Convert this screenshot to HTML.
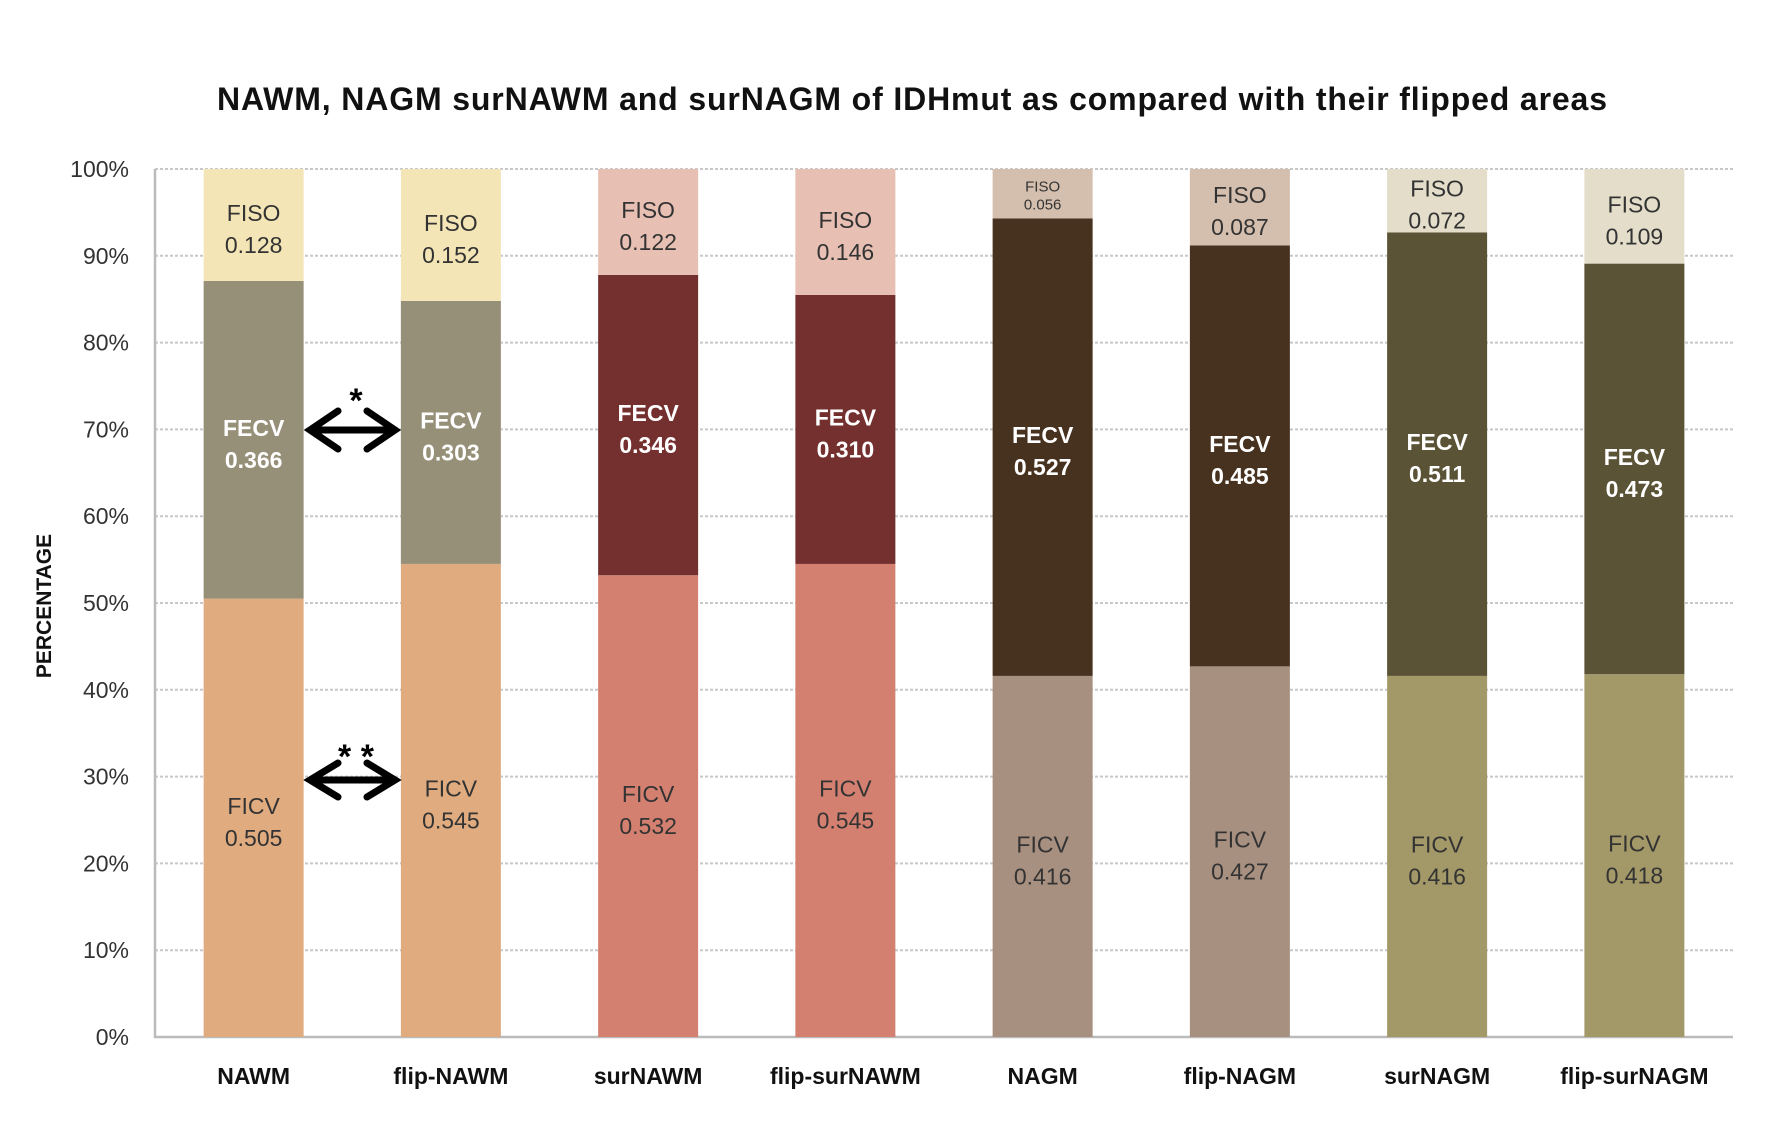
<!DOCTYPE html>
<html><head><meta charset="utf-8"><style>
body{margin:0;background:#fff}
svg text{font-family:"Liberation Sans","DejaVu Sans",sans-serif}
</style></head><body>
<svg id="chart" width="1770" height="1128" viewBox="0 0 1770 1128" xmlns="http://www.w3.org/2000/svg">
<text x="912" y="110" text-anchor="middle" font-size="32" font-weight="bold" fill="#111" textLength="1390" lengthAdjust="spacing">NAWM, NAGM surNAWM and surNAGM of IDHmut as compared with their flipped areas</text>
<text transform="translate(51,606) rotate(-90)" text-anchor="middle" font-size="21" font-weight="bold" fill="#111">PERCENTAGE</text>
<g id="grid"></g><g id="bars"></g><g id="labels"></g>
<g stroke="#000" stroke-width="7" fill="none" stroke-linecap="round">
<path d="M310 430 H395 M338 411 L310 430 L338 449 M367 411 L395 430 L367 449"/>
<path d="M310 780 H395 M338 763 L310 780 L338 797 M367 763 L395 780 L367 797"/>
</g>
<text x="356" y="412" text-anchor="middle" font-size="34" font-weight="bold">*</text>
<text x="356" y="768" text-anchor="middle" font-size="34" font-weight="bold">* *</text>
</svg>
<script>
const categories=["NAWM","flip-NAWM","surNAWM","flip-surNAWM","NAGM","flip-NAGM","surNAGM","flip-surNAGM"];
const ficv=[0.505,0.545,0.532,0.545,0.416,0.427,0.416,0.418];
const fecv=[0.366,0.303,0.346,0.310,0.527,0.485,0.511,0.473];
const fiso=[0.128,0.152,0.122,0.146,0.056,0.087,0.072,0.109];
const yTicks=[0,10,20,30,40,50,60,70,80,90,100];
const palette=[["#e0ab7f","#979079","#f4e5b6"],["#d48070","#74302f","#e8c0b3"],["#a89080","#47311f","#d4bfae"],["#a39867","#5a5336","#e3ddca"]];
const NS="http://www.w3.org/2000/svg";
const L=155,R=1733,T=169,B=1037,step=(R-L)/categories.length,bw=100;
const y=v=>B-v*(B-T);
const xc=i=>L+step*(i+0.5);
function mk(tag,attrs,parent,txt){const e=document.createElementNS(NS,tag);for(const k in attrs)e.setAttribute(k,attrs[k]);if(txt!==undefined)e.textContent=txt;parent.appendChild(e);return e;}
const grid=document.getElementById('grid'),bars=document.getElementById('bars'),labels=document.getElementById('labels');
yTicks.forEach(t=>{
  if(t>0){const g=mk('line',{x1:L,x2:R,y1:y(t/100),y2:y(t/100),stroke:'#c8c8c8','stroke-width':2,'stroke-dasharray':'3 2'},grid);
  
  }
  const tl=mk('text',{x:129,y:y(t/100)+8,'text-anchor':'end','font-size':23,fill:'#333'},grid,t+'%');
  
  
});
const ax=mk('path',{d:`M${L} ${T} V${B} H${R}`,stroke:'#bbb','stroke-width':2.5,fill:'none'},grid);


categories.forEach((c,i)=>{
  const pal=palette[Math.floor(i/2)];
  const segs=[["FICV",ficv[i]],["FECV",fecv[i]],["FISO",fiso[i]]];
  let base=0;
  segs.forEach((s,j)=>{
    const top=j===2?1:base+s[1];
    const r=mk('rect',{x:xc(i)-bw/2,y:y(top),width:bw,height:y(base)-y(top),fill:pal[j]},bars);
    
    
    const mid=(y(base)+y(top))/2;
    const small=(top-base)<0.07;
    const fs=small?15:23;
    const col=j===1?'#fff':'#333';
    const fw=j===1?'bold':'normal';
    const t1=mk('text',{x:xc(i),y:mid-(small?2:4),'text-anchor':'middle','font-size':fs,'font-weight':fw,fill:col},labels,s[0]);
    
    
    const t2=mk('text',{x:xc(i),y:mid+(small?16:28),'text-anchor':'middle','font-size':fs,'font-weight':fw,fill:col},labels,s[1].toFixed(3));
    
    
    base=top;
  });
  const xl=mk('text',{x:xc(i),y:1084,'text-anchor':'middle','font-size':23,'font-weight':'bold',fill:'#111'},labels,c);
  
  
});
</script>
</body></html>
